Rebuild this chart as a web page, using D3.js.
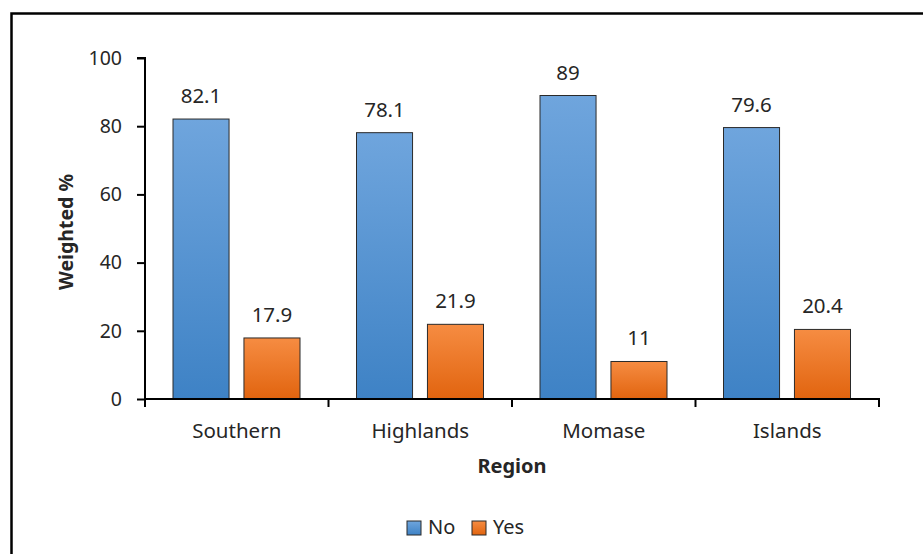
<!DOCTYPE html>
<html><head><meta charset="utf-8">
<script src="https://cdn.jsdelivr.net/npm/d3@7/dist/d3.min.js"></script>
<style>
body{margin:0;background:#fff;}
text{font-family:"Noto Sans","Open Sans",sans-serif;fill:#262626;}
</style></head>
<body><svg id="c" width="923" height="554"></svg>
<script>
const categories = ["Southern","Highlands","Momase","Islands"];
const seriesNames = ["No","Yes"];
const noValues = [82.1,78.1,89,79.6];
const yesValues = [17.9,21.9,11,20.4];
const yTicks = [0,20,40,60,80,100];

const svg = d3.select("#c");
const defs = svg.append("defs");
function grad(id, top, bot){
  const g = defs.append("linearGradient").attr("id",id).attr("x1",0).attr("y1",0).attr("x2",0).attr("y2",1);
  g.append("stop").attr("offset","0%").attr("stop-color",top);
  g.append("stop").attr("offset","100%").attr("stop-color",bot);
}
grad("gNo","#6fa5dd","#3e82c5");
grad("gYes","#f68c42","#e1640f");
const fills = {No:"url(#gNo)", Yes:"url(#gYes)"};

// outer border
svg.append("rect").attr("x",11.5).attr("y",13.5).attr("width",930).attr("height",560)
  .attr("fill","none").attr("stroke","#000").attr("stroke-width",2.5);

const x0 = d3.scaleBand().domain(categories).range([145,879]).paddingInner(0).paddingOuter(0);
const y = d3.scaleLinear().domain([0,100]).range([399,58]);
const x1 = d3.scaleBand().domain(seriesNames).range([28,155]).paddingInner(0.21);

const data = categories.map((c,i)=>({cat:c, vals:[{s:"No",v:noValues[i]},{s:"Yes",v:yesValues[i]}]}));

const groups = svg.selectAll("g.cat").data(data).enter().append("g")
  .attr("transform",d=>`translate(${x0(d.cat)},0)`);
groups.selectAll("rect").data(d=>d.vals).enter().append("rect")
  .attr("x",d=>x1(d.s)).attr("width",x1.bandwidth())
  .attr("y",d=>y(d.v)).attr("height",d=>y(0)-y(d.v))
  .attr("fill",d=>fills[d.s]).attr("stroke","#2a2a2a").attr("stroke-width",1);
groups.selectAll("text.val").data(d=>d.vals).enter().append("text")
  .attr("class","val").attr("x",d=>x1(d.s)+x1.bandwidth()/2).attr("y",d=>y(d.v)-16)
  .attr("text-anchor","middle").attr("font-size",20.5).text(d=>d.v);

// y axis
const yAxis = svg.append("g").attr("transform","translate(145,0)")
  .call(d3.axisLeft(y).tickValues(yTicks).tickSize(8).tickPadding(15));
yAxis.select(".domain").attr("stroke","#000").attr("stroke-width",2).attr("d","M-8,58H0V399");
yAxis.selectAll(".tick line").attr("stroke","#000").attr("stroke-width",2);
yAxis.selectAll(".tick text").attr("font-size",19.5).attr("font-family","Noto Sans").attr("fill","#262626");

// x axis
const xAxis = svg.append("g").attr("transform","translate(0,399)")
  .call(d3.axisBottom(x0).tickSize(0).tickPadding(24));
xAxis.select(".domain").attr("stroke","#000").attr("stroke-width",2).attr("d","M145,0H879V8");
xAxis.selectAll(".tick text").attr("font-size",20.5).attr("font-family","Noto Sans").attr("fill","#262626");
const bounds = categories.slice(1).map(c=>x0(c));
bounds.push(x0.range()[0]);
svg.append("g").selectAll("line").data(bounds).enter().append("line")
  .attr("x1",d=>d).attr("x2",d=>d).attr("y1",399).attr("y2",407)
  .attr("stroke","#000").attr("stroke-width",2);

// axis titles
svg.append("text").attr("transform","translate(73,232) rotate(-90)").attr("text-anchor","middle")
  .attr("font-size",19.5).attr("font-weight","bold").attr("fill","#000").text("Weighted %");
svg.append("text").attr("x",512).attr("y",473).attr("text-anchor","middle")
  .attr("font-size",20).attr("font-weight","bold").attr("fill","#000").text("Region");

// legend
const leg = svg.append("g");
const legX = [407,472];
seriesNames.forEach((s,i)=>{
  leg.append("rect").attr("x",legX[i]).attr("y",521).attr("width",14).attr("height",14)
    .attr("fill",fills[s]).attr("stroke","#2a2a2a").attr("stroke-width",1);
  leg.append("text").attr("x",legX[i]+21).attr("y",534).attr("font-size",20).text(s);
});
</script></body></html>
